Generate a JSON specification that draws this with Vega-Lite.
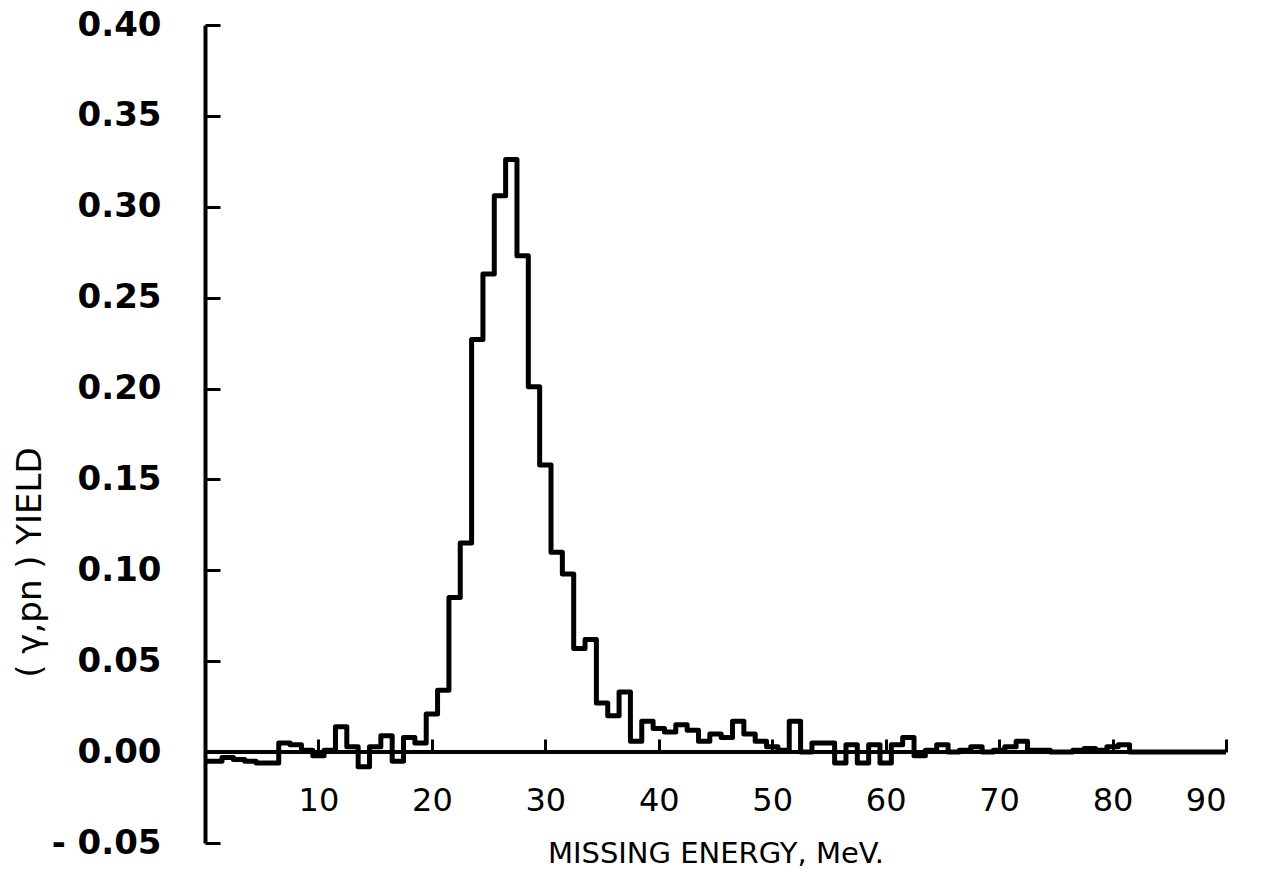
{
  "$schema": "https://vega.github.io/schema/vega-lite/v6.json",
  "width": 1021,
  "height": 818,
  "autosize": {"type": "none"},
  "padding": {"left": 205, "top": 25, "right": 40, "bottom": 44},
  "background": "white",
  "config": {"view": {"stroke": null}},
  "resolve": {"axis": {"x": "independent", "y": "independent"}},
  "layer": [
    {
      "data": {
        "values": [
          {"E": 0, "Y": -0.005}, {"E": 1.5, "Y": -0.003}, {"E": 2.5, "Y": -0.004}, {"E": 3.5, "Y": -0.005},
          {"E": 4.5, "Y": -0.006}, {"E": 5.5, "Y": -0.006}, {"E": 6.5, "Y": 0.005}, {"E": 7.5, "Y": 0.004},
          {"E": 8.5, "Y": 0.001}, {"E": 9.5, "Y": -0.002}, {"E": 10.5, "Y": 0.001}, {"E": 11.5, "Y": 0.014},
          {"E": 12.5, "Y": 0.003}, {"E": 13.5, "Y": -0.008}, {"E": 14.5, "Y": 0.003}, {"E": 15.5, "Y": 0.009},
          {"E": 16.5, "Y": -0.005}, {"E": 17.5, "Y": 0.008}, {"E": 18.5, "Y": 0.005}, {"E": 19.5, "Y": 0.021},
          {"E": 20.5, "Y": 0.034}, {"E": 21.5, "Y": 0.085}, {"E": 22.5, "Y": 0.115}, {"E": 23.5, "Y": 0.227},
          {"E": 24.5, "Y": 0.263}, {"E": 25.5, "Y": 0.306}, {"E": 26.5, "Y": 0.326}, {"E": 27.5, "Y": 0.273},
          {"E": 28.5, "Y": 0.201}, {"E": 29.5, "Y": 0.158}, {"E": 30.5, "Y": 0.11}, {"E": 31.5, "Y": 0.098},
          {"E": 32.5, "Y": 0.057}, {"E": 33.5, "Y": 0.062}, {"E": 34.5, "Y": 0.027}, {"E": 35.5, "Y": 0.02},
          {"E": 36.5, "Y": 0.033}, {"E": 37.5, "Y": 0.006}, {"E": 38.5, "Y": 0.017}, {"E": 39.5, "Y": 0.013},
          {"E": 40.5, "Y": 0.011}, {"E": 41.5, "Y": 0.015}, {"E": 42.5, "Y": 0.012}, {"E": 43.5, "Y": 0.006},
          {"E": 44.5, "Y": 0.01}, {"E": 45.5, "Y": 0.008}, {"E": 46.5, "Y": 0.017}, {"E": 47.5, "Y": 0.01},
          {"E": 48.5, "Y": 0.006}, {"E": 49.5, "Y": 0.003}, {"E": 50.5, "Y": 0.001}, {"E": 51.5, "Y": 0.017},
          {"E": 52.5, "Y": 0.0}, {"E": 53.5, "Y": 0.005}, {"E": 54.5, "Y": 0.005}, {"E": 55.5, "Y": -0.006},
          {"E": 56.5, "Y": 0.004}, {"E": 57.5, "Y": -0.006}, {"E": 58.5, "Y": 0.004}, {"E": 59.5, "Y": -0.006},
          {"E": 60.5, "Y": 0.004}, {"E": 61.5, "Y": 0.008}, {"E": 62.5, "Y": -0.002}, {"E": 63.5, "Y": 0.001},
          {"E": 64.5, "Y": 0.004}, {"E": 65.5, "Y": 0.0}, {"E": 66.5, "Y": 0.001}, {"E": 67.5, "Y": 0.003},
          {"E": 68.5, "Y": 0.0}, {"E": 69.5, "Y": 0.001}, {"E": 70.5, "Y": 0.003}, {"E": 71.5, "Y": 0.006},
          {"E": 72.5, "Y": 0.001}, {"E": 73.5, "Y": 0.001}, {"E": 74.5, "Y": 0.0}, {"E": 75.5, "Y": 0.0},
          {"E": 76.5, "Y": 0.001}, {"E": 77.5, "Y": 0.002}, {"E": 78.5, "Y": 0.001}, {"E": 79.5, "Y": 0.003},
          {"E": 80.5, "Y": 0.004}, {"E": 81.5, "Y": 0.0}, {"E": 90, "Y": 0.0}
        ]
      },
      "mark": {
        "type": "line",
        "interpolate": "step-after",
        "stroke": "black",
        "strokeWidth": 5,
        "strokeJoin": "round"
      },
      "encoding": {
        "x": {
          "field": "E",
          "type": "quantitative",
          "scale": {"domain": [0, 90], "nice": false, "zero": false},
          "axis": {
            "orient": "bottom",
            "title": "MISSING ENERGY, MeV.",
            "values": [10, 20, 30, 40, 50, 60, 70, 80, 90],
            "offset": -91,
            "grid": false,
            "domain": false,
            "ticks": false,
            "labelFont": "DejaVu Sans",
            "labelFontSize": 32,
            "labelColor": "black",
            "labelPadding": 33,
            "titleFont": "DejaVu Sans",
            "titleFontSize": 29,
            "titleFontWeight": "normal",
            "titleColor": "black",
            "titleY": 101,
            "titleBaseline": "middle"
          }
        },
        "y": {
          "field": "Y",
          "type": "quantitative",
          "scale": {"domain": [-0.05, 0.4], "nice": false, "zero": false},
          "axis": {
            "orient": "left",
            "title": "( γ,pn ) YIELD",
            "values": [-0.05, 0, 0.05, 0.1, 0.15, 0.2, 0.25, 0.3, 0.35, 0.4],
            "labelExpr": "datum.value < 0 ? '- ' + format(-datum.value, '.2f') : format(datum.value, '.2f')",
            "grid": false,
            "domainColor": "black",
            "domainWidth": 4,
            "ticks": false,
            "labelFont": "DejaVu Sans",
            "labelFontSize": 34,
            "labelFontWeight": "bold",
            "labelColor": "black",
            "labelPadding": 44,
            "titleFont": "DejaVu Sans",
            "titleFontSize": 34,
            "titleFontWeight": "normal",
            "titleColor": "black",
            "titleX": -175,
            "titleY": 537,
            "titleAngle": -90,
            "titleBaseline": "middle",
            "titleAlign": "center"
          }
        }
      }
    },
    {
      "data": {"values": [{"E0": 0, "E1": 90, "Y": 0}]},
      "mark": {"type": "rule", "stroke": "black", "strokeWidth": 4},
      "encoding": {
        "x": {
          "field": "E0",
          "type": "quantitative",
          "axis": {
            "orient": "top",
            "values": [10, 20, 30, 40, 50, 60, 70, 80, 90],
            "offset": -727,
            "title": null,
            "grid": false,
            "domain": false,
            "labels": false,
            "tickColor": "black",
            "tickWidth": 3,
            "tickSize": 13
          }
        },
        "x2": {"field": "E1"},
        "y": {
          "field": "Y",
          "type": "quantitative",
          "axis": {
            "orient": "right",
            "values": [-0.05, 0, 0.05, 0.1, 0.15, 0.2, 0.25, 0.3, 0.35, 0.4],
            "offset": -1021,
            "title": null,
            "grid": false,
            "domain": false,
            "labels": false,
            "tickColor": "black",
            "tickWidth": 3,
            "tickSize": 15
          }
        }
      }
    }
  ]
}
